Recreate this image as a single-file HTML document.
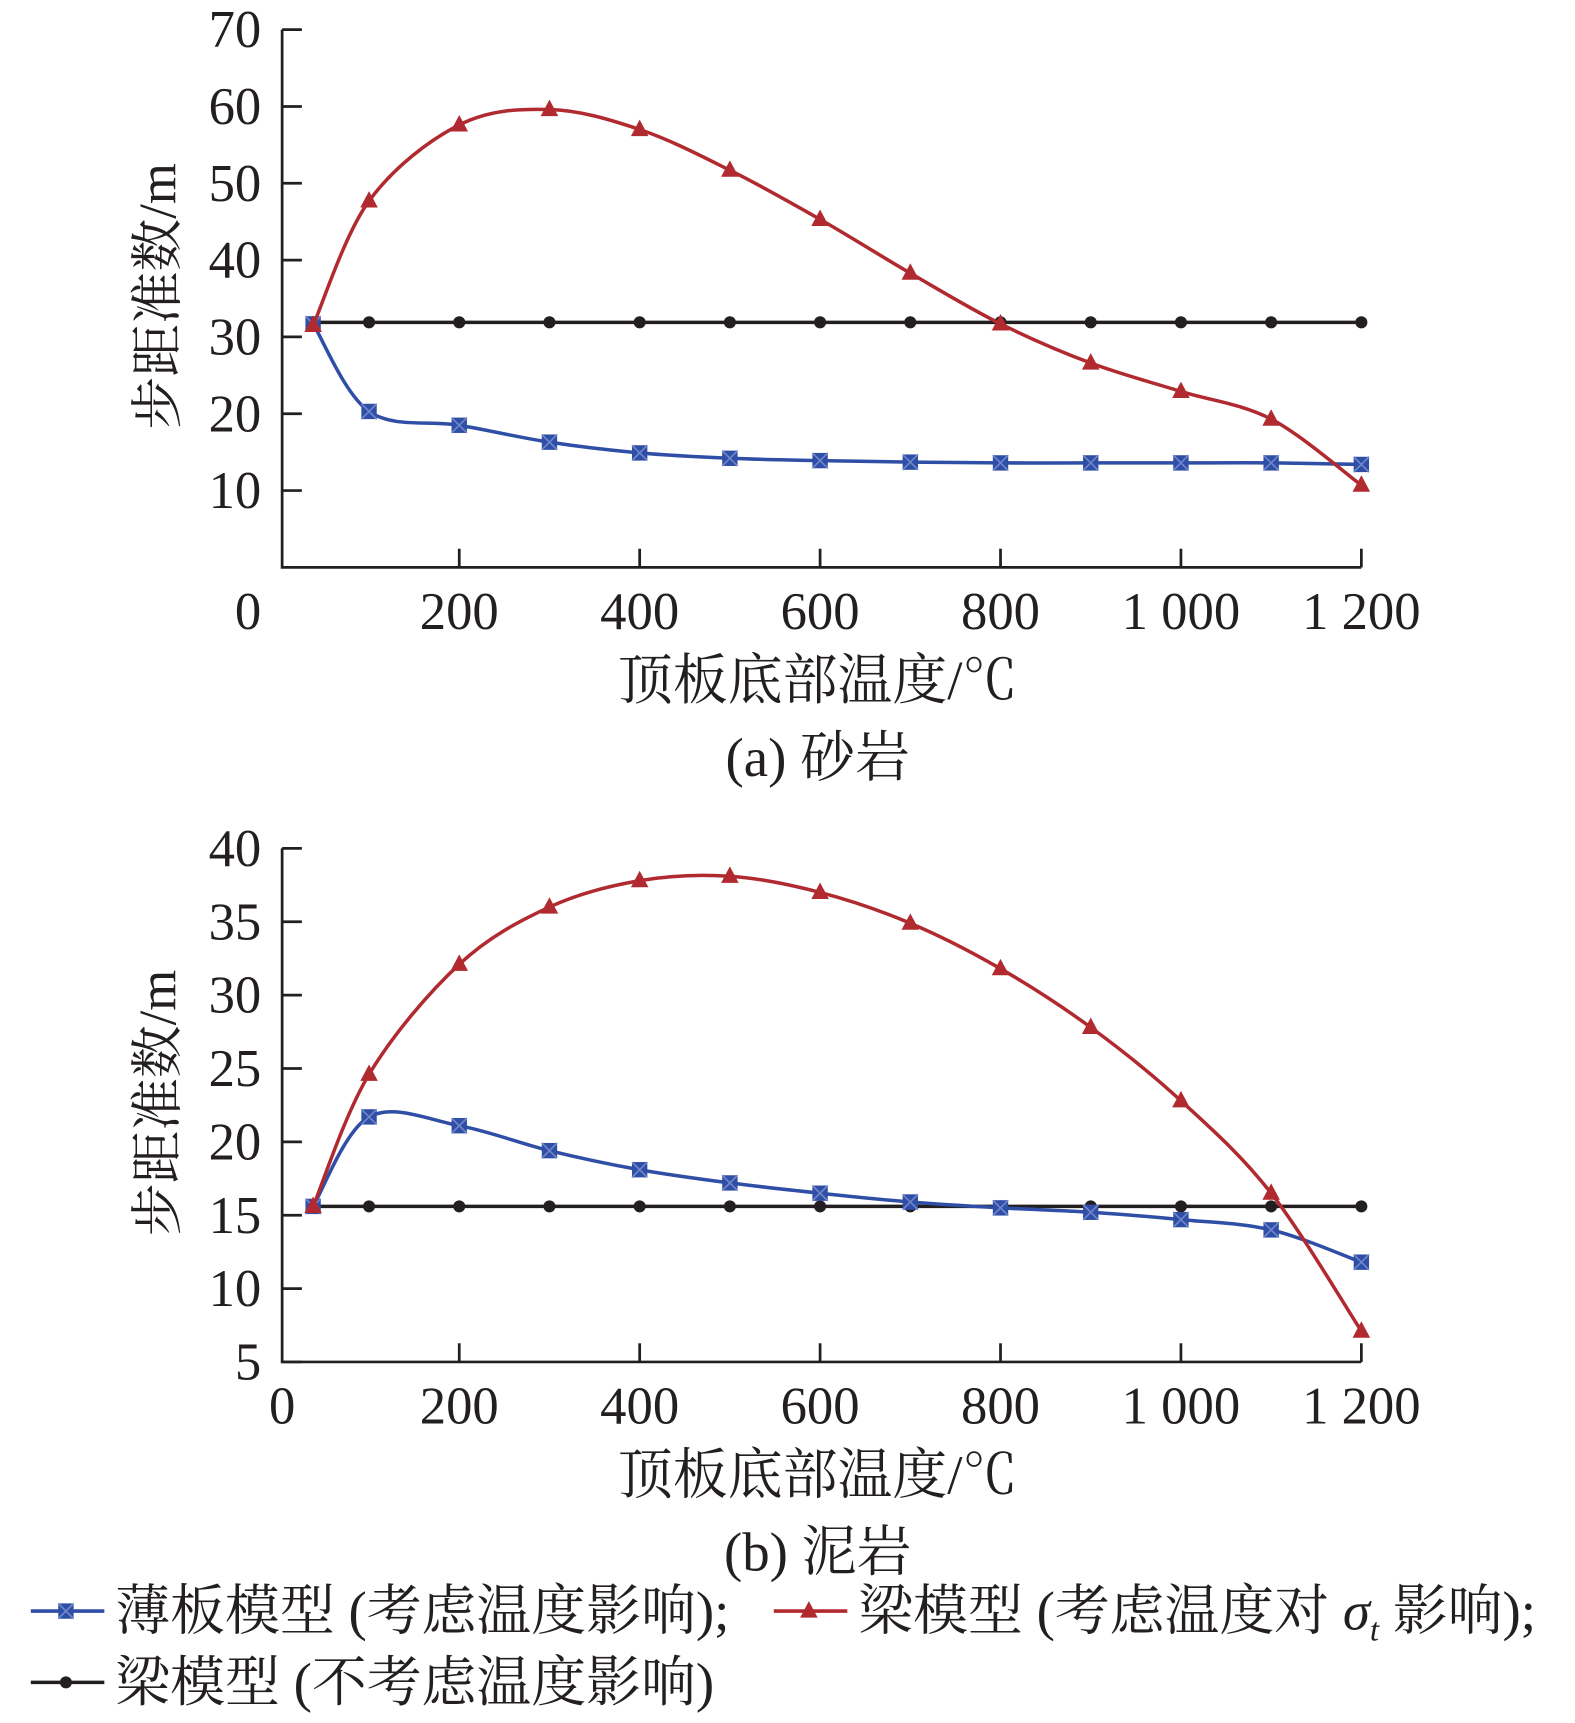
<!DOCTYPE html>
<html><head><meta charset="utf-8"><style>
html,body{margin:0;padding:0;background:#fff}
svg{display:block}
text{font-family:"Liberation Serif","Noto Serif CJK SC",serif;fill:#231f20}
</style></head><body>
<svg id="fig" width="1575" height="1723" viewBox="0 0 1435 1570" xmlns="http://www.w3.org/2000/svg"></svg>
<script>
const temps=[38,100,200,300,400,500,600,700,800,900,1000,1100,1200];
const xTicks=[200,400,600,800,1000,1200];
const xTickLabels=["200","400","600","800","1 000","1 200"];
const aBlue=[31.7,20.3,18.5,16.3,14.9,14.2,13.9,13.7,13.6,13.6,13.6,13.6,13.4];
const aRed=[31.5,47.7,57.6,59.6,57.0,51.7,45.3,38.3,31.7,26.6,22.9,19.3,10.7];
const aBlack=[31.9,31.9,31.9,31.9,31.9,31.9,31.9,31.9,31.9,31.9,31.9,31.9,31.9];
const aYTicks=[10,20,30,40,50,60,70];
const bBlue=[15.6,21.7,21.1,19.4,18.1,17.2,16.5,15.9,15.5,15.2,14.7,14.0,11.8];
const bRed=[15.6,24.6,32.1,36.0,37.8,38.1,37.0,34.9,31.8,27.8,22.8,16.5,7.1];
const bBlack=[15.6,15.6,15.6,15.6,15.6,15.6,15.6,15.6,15.6,15.6,15.6,15.6,15.6];
const bYTicks=[5,10,15,20,25,30,35,40];

const NS="http://www.w3.org/2000/svg";
const svg=document.getElementById('fig');
function mk(tag,attrs,parent){const e=document.createElementNS(NS,tag);for(const k in attrs)e.setAttribute(k,attrs[k]);(parent||svg).appendChild(e);return e;}
function txt(s,x,y,size,anchor,parent){const t=mk('text',{x:x,y:y,'font-size':size,'text-anchor':anchor||'middle'},parent);t.textContent=s;return t;}
function spline(pts){let d=`M${pts[0][0]},${pts[0][1]}`;for(let i=0;i<pts.length-1;i++){const p0=pts[Math.max(0,i-1)],p1=pts[i],p2=pts[i+1],p3=pts[Math.min(pts.length-1,i+2)];const c1=[p1[0]+(p2[0]-p0[0])/6,p1[1]+(p2[1]-p0[1])/6];const c2=[p2[0]-(p3[0]-p1[0])/6,p2[1]-(p3[1]-p1[1])/6];d+=` C${c1[0]},${c1[1]} ${c2[0]},${c2[1]} ${p2[0]},${p2[1]}`;}return d;}
function marker(type,x,y,g){
  if(type==='blue'){mk('rect',{x:x-7,y:y-7,width:14,height:14,fill:'#2f4ea6'},g);mk('path',{d:`M${x-7},${y-7}L${x+7},${y+7}M${x+7},${y-7}L${x-7},${y+7}`,stroke:'#6f86cc','stroke-width':1.5},g);}
  else if(type==='red'){mk('polygon',{points:`${x},${y-9} ${x+8},${y+6} ${x-8},${y+6}`,fill:'#b02a30'},g);}
  else mk('circle',{cx:x,cy:y,r:5.5,fill:'#231f20'},g);
}
const colors={blue:'#2f4ea6',red:'#b02a30',black:'#231f20'};
function chart(cfg){
  const g=mk('g',{});
  
  
  const x0=254,xs=0.822;
  const X=v=>x0+v*xs;
  const Y=v=>cfg.yBase-(v-cfg.yMin)*cfg.ys;
  const ax=mk('path',{d:`M257,${Y(cfg.yMax)} L257,${cfg.yBase} L${X(1200)},${cfg.yBase}`,fill:'none',stroke:'#231f20','stroke-width':2.5},g);
  
  cfg.yTicks.forEach(v=>{mk('line',{x1:257,x2:275,y1:Y(v),y2:Y(v),stroke:'#231f20','stroke-width':2.5},g);
    const t=txt(String(v),238,Y(v)+16,48,'end',g);});
  xTicks.forEach((v,i)=>{mk('line',{x1:X(v),x2:X(v),y1:cfg.yBase,y2:cfg.yBase-17,stroke:'#231f20','stroke-width':2.5},g);
    const t=txt(xTickLabels[i],X(v),cfg.yBase+56,48,'middle',g);});
  const z=txt('0',cfg.zeroX,cfg.yBase+56,48,'middle',g);
  const yt=txt('步距准数/m',0,0,48,'middle',g);yt.setAttribute('transform',`translate(160,${cfg.yTitleY}) rotate(-90)`);
  
  const xt=txt('顶板底部温度/℃',745,cfg.yBase+120,50,'middle',g);
  const cp=txt(cfg.caption,745,cfg.yBase+190,50,'middle',g);
  [['black',cfg.black],['blue',cfg.blue],['red',cfg.red]].forEach(([k,arr])=>{
    const pts=temps.map((t,i)=>[X(t),Y(arr[i])]);
    const p=mk('path',{d:k==='black'?`M${pts[0][0]},${pts[0][1]}L${pts[pts.length-1][0]},${pts[pts.length-1][1]}`:spline(pts),fill:'none',stroke:colors[k],'stroke-width':3.2},g);
    
    pts.forEach(q=>marker(k,q[0],q[1],g));
  });
}
chart({name:'chart-sandstone',yBase:517,yMin:0,yMax:70,ys:7,yTicks:aYTicks,blue:aBlue,red:aRed,black:aBlack,caption:'(a) 砂岩',zeroX:226,yTitleY:270});
chart({name:'chart-mudstone',yBase:1241,yMin:5,yMax:40,ys:13.37,yTicks:bYTicks,blue:bBlue,red:bRed,black:bBlack,caption:'(b) 泥岩',zeroX:257,yTitleY:1005});
const lg=mk('g',{});


function entry(k,x,y,label){const g=mk('g',{},lg);
  
  
  mk('line',{x1:x,x2:x+67,y1:y,y2:y,stroke:colors[k],'stroke-width':3.2},g);marker(k,x+32,y,g);
  const t=mk('text',{x:x+77,y:y+17,'font-size':50},g);t.innerHTML=label;}
entry('blue',28,1468,'薄板模型 (考虑温度影响);');
entry('red',705,1468,'梁模型 (考虑温度对 <tspan font-style="italic">σ</tspan><tspan font-style="italic" font-size="30" dy="10">t</tspan><tspan dy="-10"> 影响);</tspan>');
entry('black',28,1533,'梁模型 (不考虑温度影响)');
</script>
</body></html>
